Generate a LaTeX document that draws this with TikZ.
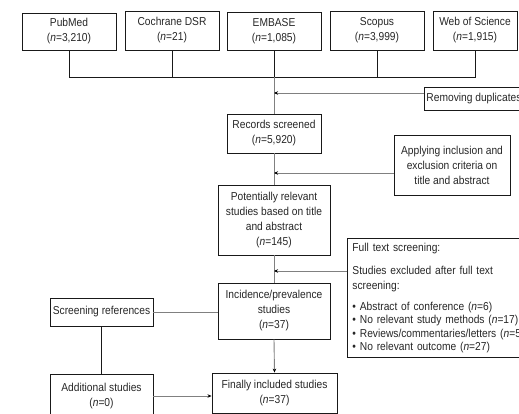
\documentclass[tikz,border=0pt]{standalone}
\usepackage{fontspec}
\setmainfont{Liberation Sans}[FakeStretch=0.89]
\usetikzlibrary{positioning, arrows.meta}
\newcommand*{\nval}[1]{(\textit{n}=#1)}
\tikzset{
  box/.style={draw=black!90, line width=0.9pt, align=center, inner sep=2pt,
    text=black!85, font=\fontsize{11.5}{15}\selectfont},
  bus/.style={draw=black!90, line width=0.9pt},
  link/.style={draw=black!50, line width=0.9pt},
  feed/.style={link, -{Stealth[length=4pt, width=3.5pt, black]}}
}

\begin{document}
\begin{tikzpicture}[x=1pt, y=-1pt]
\useasboundingbox (0,0) rectangle (519,414);
\clip (0,0) rectangle (519,414);

% databases
\node (PubMed) [box, minimum width=94pt, minimum height=37pt] at (69,31.5) {PubMed\\\nval{3,210}};
\node (Cochrane) [box, minimum width=94pt, minimum height=39pt] at (172,30.5) {Cochrane DSR\\\nval{21}};
\node (Embase) [box, minimum width=94pt, minimum height=38pt] at (274,31) {EMBASE\\\nval{1,085}};
\node (Scopus) [box, minimum width=94pt, minimum height=39pt] at (377,30.5) {Scopus\\\nval{3,999}};
\node (WoS) [box, minimum width=84pt, minimum height=39pt] at (475,30.5) {Web of Science\\\nval{1,915}};

\coordinate (Bus) at (274,77);

% main column
\node (Records) [box, minimum width=94pt, minimum height=39pt] at (274,133.5) {Records screened\\\nval{5,920}};
\node (Relevant) [box, minimum width=112pt, minimum height=70pt] at (274,220) {Potentially relevant\\studies based on title\\and abstract\\\nval{145}};
\node (Incidence) [box, minimum width=112pt, minimum height=56pt] at (274,311) {Incidence/prevalence\\studies\\\nval{37}};
\node (Final) [box, minimum width=125pt, minimum height=40pt] at (274.5,393) {Finally included studies\\\nval{37}};

% side boxes
\node (Dup) [box, anchor=west, minimum height=23pt] at (424,98.5) {Removing duplicates};
\node (Criteria) [box, minimum width=116pt, minimum height=60pt] at (452,165) {Applying inclusion and\\exclusion criteria on\\title and abstract};
\node (FullText) [box, anchor=north west, align=left, text width=175pt, inner xsep=5pt,
  minimum height=119pt] at (347,238) {Full text screening:\\[8pt]
  Studies excluded after full text\\
  screening:\\[6pt]
  • Abstract of conference \nval{6}\\[-1.5pt]
  • No relevant study methods \nval{17}\\[-1.5pt]
  • Reviews/commentaries/letters \nval{5}\\[-1.5pt]
  • No relevant outcome \nval{27}};
\node (RefScreen) [box, minimum width=103pt, minimum height=28pt] at (101.5,312) {Screening references};
\node (Extra) [box, minimum width=103pt, minimum height=44pt] at (101.5,396) {Additional studies\\\nval{0}};

\coordinate (FullTextIn) at ([yshift=-33pt]FullText.north west);

% joining the databases
\draw[bus] (PubMed.south) |- (WoS.south |- Bus) -- (WoS.south);
\draw[bus] (Cochrane.south) -- (Cochrane.south |- Bus);
\draw[bus] (Embase.south) -- (Bus);
\draw[bus] (Scopus.south) -- (Scopus.south |- Bus);

% flow
\draw[link] (Bus) -- (Records.north);
\draw[link] (Records.south) -- (Relevant.north);
\draw[link] (Relevant.south) -- (Incidence.north);
\draw[feed] (Incidence.south) -- (Final.north);

\draw[feed] ([yshift=5.5pt]Dup.west) -- ([yshift=5.5pt]Dup.west -| Records.north);
\draw[feed] ([yshift=-8pt]Criteria.west) -- ([yshift=-8pt]Criteria.west -| Records.south);
\draw[feed] (FullTextIn) -- (FullTextIn -| Relevant.south);

\draw[link] (RefScreen.east) -- (RefScreen.east -| Incidence.west);
\draw[bus] (RefScreen.south) -- (Extra.north);
\draw[feed] (Extra.east) -- (Extra.east -| Final.west);

\end{tikzpicture}
\end{document}
